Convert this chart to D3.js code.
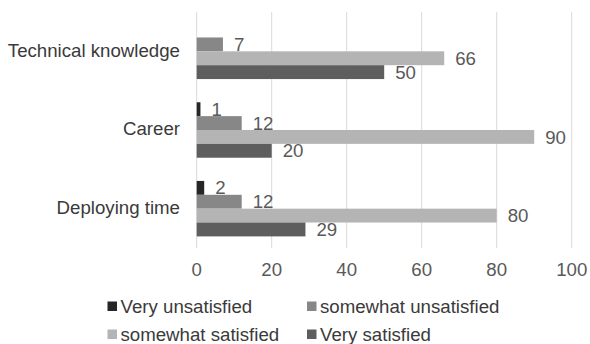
<!DOCTYPE html>
<html>
<head>
<meta charset="utf-8">
<script src="https://cdn.jsdelivr.net/npm/d3@7"></script>
<style>
  html, body { margin: 0; padding: 0; background: #fff; }
  svg { display: block; }
  text { font-family: "Liberation Sans", Arial, sans-serif; fill: #595959; font-size: 18.67px; }
  .dark { fill: #3a3a3a; }
</style>
</head>
<body>
<svg id="chart" width="590" height="344"></svg>
<script>
// Survey satisfaction by area
const categories = ["Technical knowledge", "Career", "Deploying time"];
const seriesNames = ["Very unsatisfied", "somewhat unsatisfied", "somewhat satisfied", "Very satisfied"];
const veryUnsatisfied = [null, 1, 2];
const somewhatUnsatisfied = [7, 12, 12];
const somewhatSatisfied = [66, 90, 80];
const verySatisfied = [50, 20, 29];
const xTicks = [0, 20, 40, 60, 80, 100];
const colors = ["#262626", "#878787", "#b4b4b4", "#5e5e5e"];

const seriesValues = [veryUnsatisfied, somewhatUnsatisfied, somewhatSatisfied, verySatisfied];

const svg = d3.select("#chart");
const plot = { left: 196.7, right: 571.7, top: 12, bottom: 248 };

const x = d3.scaleLinear().domain([0, 100]).range([plot.left, plot.right]);
const y = d3.scaleBand().domain(categories).range([plot.top, plot.bottom])
  .paddingInner(0.295).paddingOuter(0.1475);
const ySub = d3.scaleBand().domain(seriesNames).range([0, y.bandwidth()]);

// vertical gridlines
svg.append("g").selectAll("line").data(xTicks).join("line")
  .attr("x1", d => x(d)).attr("x2", d => x(d))
  .attr("y1", plot.top).attr("y2", plot.bottom)
  .attr("stroke", "#d9d9d9").attr("stroke-width", 1);

// x tick labels
svg.append("g").selectAll("text").data(xTicks).join("text")
  .attr("x", d => x(d)).attr("y", 276)
  .attr("text-anchor", "middle")
  .text(d => d);

// category labels
svg.append("g").selectAll("text").data(categories).join("text")
  .attr("class", "dark")
  .attr("x", 180).attr("y", d => y(d) + y.bandwidth() / 2 + 5.3)
  .attr("text-anchor", "end")
  .text(d => d);

// bars and value labels
const rows = [];
seriesNames.forEach((s, si) => {
  categories.forEach((c, ci) => {
    const v = seriesValues[si][ci];
    if (v !== null && v !== undefined) rows.push({ s, si, c, v });
  });
});

const gBars = svg.append("g");
gBars.selectAll("rect").data(rows).join("rect")
  .attr("x", x(0))
  .attr("y", d => y(d.c) + ySub(d.s))
  .attr("width", d => x(d.v) - x(0))
  .attr("height", ySub.bandwidth())
  .attr("fill", d => colors[d.si]);

gBars.selectAll("text").data(rows).join("text")
  .attr("x", d => x(d.v) + 11)
  .attr("y", d => y(d.c) + ySub(d.s) + ySub.bandwidth() / 2 + 6.6)
  .text(d => d.v);

// legend
const legendPos = [
  { x: 107.5, y: 312.5 },
  { x: 307, y: 312.5 },
  { x: 107.5, y: 340.5 },
  { x: 307, y: 340.5 }
];
const lg = svg.append("g").selectAll("g").data(seriesNames).join("g")
  .attr("transform", (d, i) => `translate(${legendPos[i].x},${legendPos[i].y})`);
lg.append("rect")
  .attr("x", 0).attr("y", -11).attr("width", 9.5).attr("height", 9.5)
  .attr("fill", (d, i) => colors[i]);
lg.append("text")
  .attr("class", "dark")
  .attr("x", 13).attr("y", 0)
  .text(d => d);
</script>
</body>
</html>
